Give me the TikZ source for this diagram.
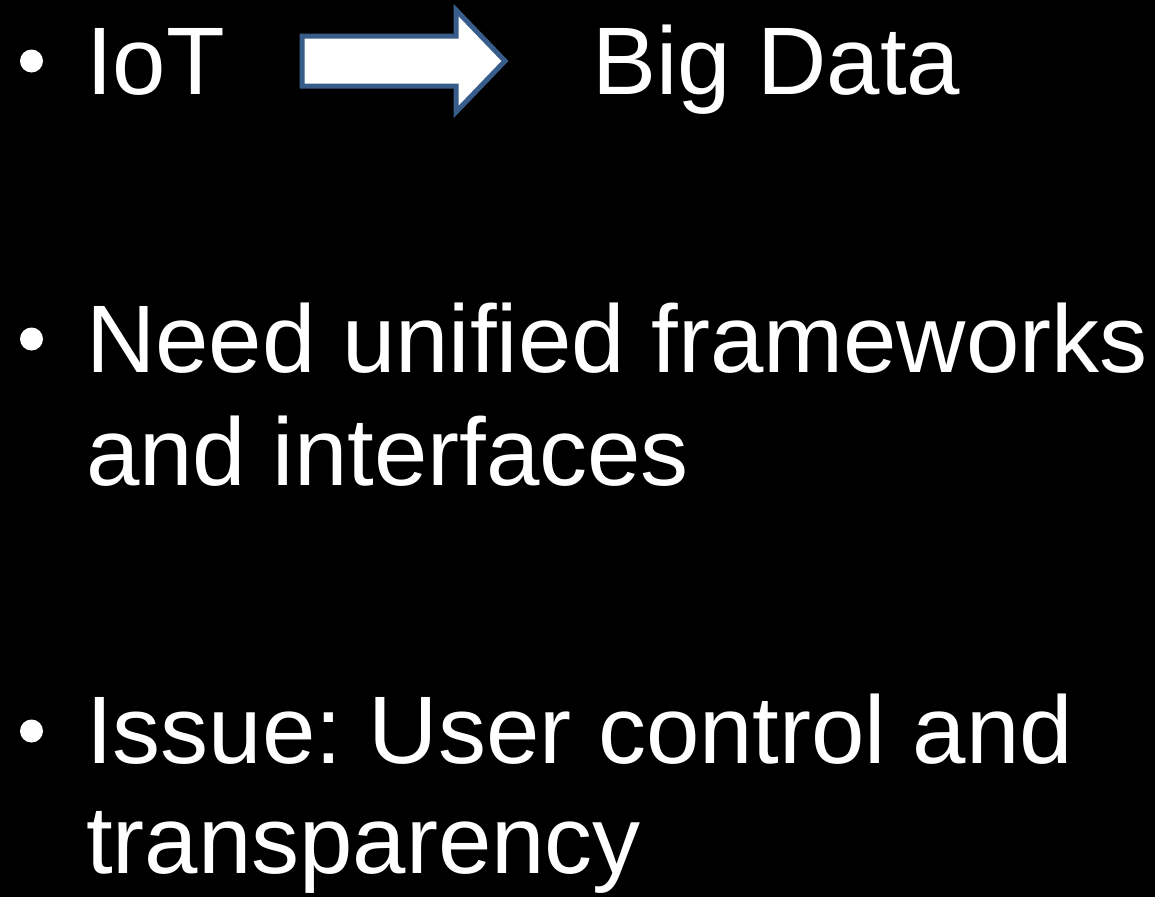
\documentclass[tikz,border=0pt]{standalone}
\usepackage{fontspec}
\setmainfont{Liberation Sans}
\frenchspacing
\definecolor{arrowblue}{HTML}{385D8A}
\begin{document}
\begin{tikzpicture}[x=1pt,y=-1pt,
  txt/.style={anchor=base west,inner sep=0pt,outer sep=0pt,text=white,font=\fontsize{96}{113}\selectfont},
  bul/.style={circle,fill=white,inner sep=0pt,minimum size=23pt}]
\fill[black] (0,0) rectangle (1155,897);
\useasboundingbox (0,0) rectangle (1155,897);
\node[bul] (b1) at (31.5,61) {};
\node[bul] (b2) at (31.5,339) {};
\node[bul] (b3) at (31.5,731) {};
\node[txt] (iot) at (86,94) {IoT};
\node[txt] (big) at (592,94) {Big Data};
\node[txt] (l2) at (86,372) {Need unified frameworks};
\node[txt] (l3) at (86,485) {and interfaces};
\node[txt] (l4) at (86,763) {Issue: User control and};
\node[txt] (l5) at (86,873) {transparency};
\draw[arrowblue,line width=5pt,fill=white,line join=miter]
  (302,36) -- (456,36) -- (456,10) -- (505,61) -- (456,112) -- (456,86) -- (302,86) -- cycle;
\end{tikzpicture}
\end{document}
